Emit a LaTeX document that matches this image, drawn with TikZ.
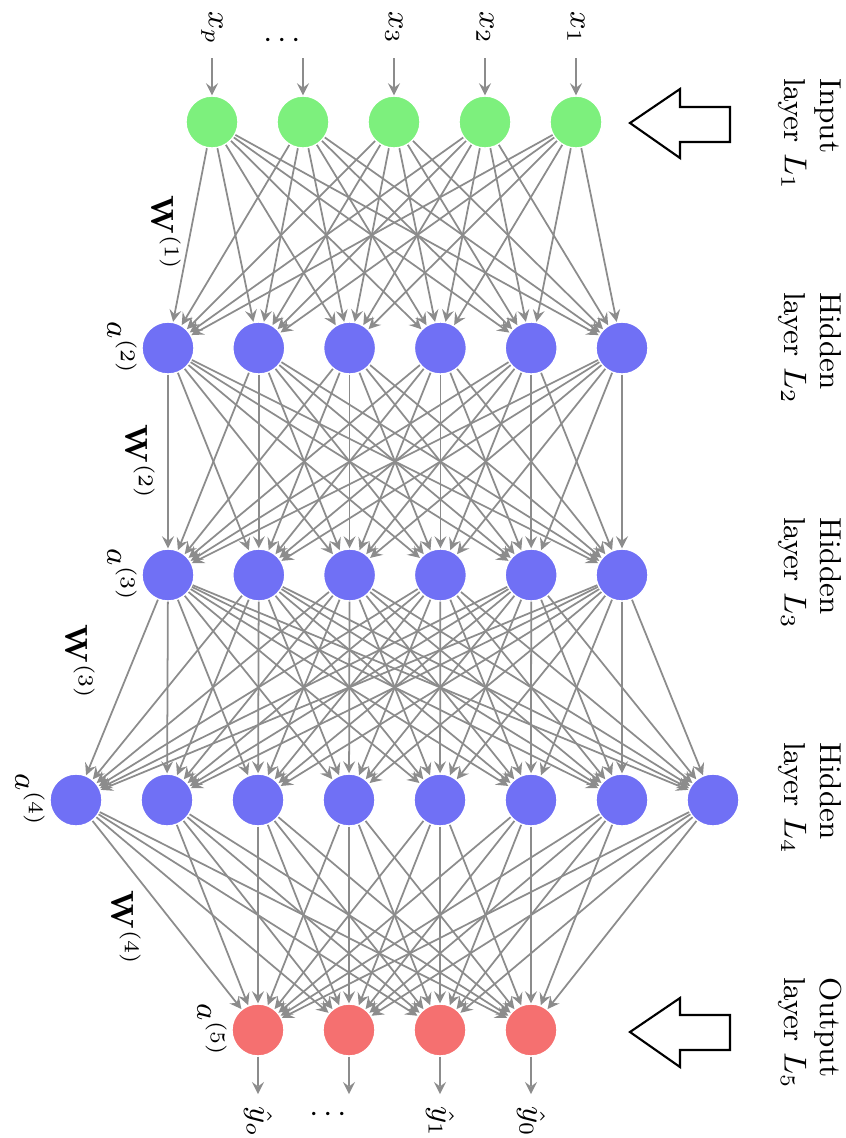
\documentclass[tikz,border=0pt]{standalone}
\usepackage{amsmath,amssymb}
\usepackage{tikz}
\usetikzlibrary{arrows, calc, positioning}
\definecolor{ingreen}{RGB}{125,240,125}
\definecolor{hidblue}{RGB}{112,112,245}
\definecolor{outred}{RGB}{245,112,112}
\tikzset{nodi/.style={circle,draw=white,fill=ingreen,minimum size=0.52cm,inner sep=0pt}}
\tikzset{nodh/.style={circle,draw=white,fill=hidblue,minimum size=0.52cm,inner sep=0pt}}
\tikzset{nodo/.style={circle,draw=white,fill=outred,minimum size=0.52cm,inner sep=0pt}}
\tikzset{conn/.style={->,>=stealth,draw=gray!90,line width=.5pt}}
\tikzset{rot/.style={rotate=-90,font=\small}}
\tikzset{laynam/.style={rotate=-90,align=left,font=\fontsize{8.6}{10.2}\selectfont}}
\tikzset{bigarr/.style={draw=black,line width=.6pt,fill=white}}

\begin{document}
\begin{tikzpicture}[x=0.01cm,y=-0.01cm]
\useasboundingbox (0,0) rectangle (846,1138);
% layers
\foreach \i in {1,...,5} \node [nodi] (l1-\i) at ({212+91*(\i-1)},122) {};
\foreach \i in {1,...,6} \node [nodh] (l2-\i) at ({168+90.8*(\i-1)},348) {};
\foreach \i in {1,...,6} \node [nodh] (l3-\i) at ({168+90.8*(\i-1)},575) {};
\foreach \i in {1,...,8} \node [nodh] (l4-\i) at ({76+91*(\i-1)},800) {};
\foreach \i in {1,...,4} \node [nodo] (l5-\i) at ({258+91*(\i-1)},1030) {};

% weights
\foreach \i in {1,...,5} \foreach \j in {1,...,6} \draw [conn] (l1-\i) -- (l2-\j);
\foreach \i in {1,...,6} \foreach \j in {1,...,6} \draw [conn] (l2-\i) -- (l3-\j);
\foreach \i in {1,...,6} \foreach \j in {1,...,8} \draw [conn] (l3-\i) -- (l4-\j);
\foreach \i in {1,...,8} \foreach \j in {1,...,4} \draw [conn] (l4-\i) -- (l5-\j);

% inputs and outputs
\foreach \i/\t in {1/x_p,3/x_3,4/x_2,5/x_1}
	\node [rot] (xl\i) at ($(l1-\i)+(0,-94)$) {$\t$};
\node [rot] (xl2) at ($(l1-2)+(-10,-82)$) {$\vdots$};
\foreach \i in {1,...,5}{
	\coordinate (in\i) at ($(l1-\i)+(0,-64)$);
	\draw [conn] (in\i) -- (l1-\i);
}
\foreach \i/\t in {1/\hat{y}_o,3/\hat{y}_1,4/\hat{y}_0}
	\node [rot] (yl\i) at ($(l5-\i)+(0,92)$) {$\t$};
\node [rot] (yl2) at ($(l5-2)+(-10,84)$) {$\vdots$};
\foreach \i in {1,...,4}{
	\coordinate (out\i) at ($(l5-\i)+(0,64)$);
	\draw [conn] (l5-\i) -- (out\i);
}

\node [rot] at ($(l2-1)+(-46,0)$) (a2) {$a^{(2)}$};
\node [rot] at ($(l3-1)+(-46,0)$) (a3) {$a^{(3)}$};
\node [rot] at ($(l4-1)+(-46,0)$) (a4) {$a^{(4)}$};
\node [rot] at ($(l5-1)+(-46,0)$) (a5) {$a^{(5)}$};

\node [rot] at (166,233) (w1) {$\mathbf{W}^{(1)}$};
\node [rot] at (140,462) (w2) {$\mathbf{W}^{(2)}$};
\node [rot] at (80,662) (w3) {$\mathbf{W}^{(3)}$};
\node [rot] at (126,928) (w4) {$\mathbf{W}^{(4)}$};

% layer names
\node [laynam] at (810,134) (lab1) {Input\\layer $L_1$};
\node [laynam] at (810,348) (lab2) {Hidden\\layer $L_2$};
\node [laynam] at (810,573) (lab3) {Hidden\\layer $L_3$};
\node [laynam] at (810,798) (lab4) {Hidden\\layer $L_4$};
\node [laynam] at (810,1033) (lab5) {Output\\layer $L_5$};

\draw [bigarr] (630,123) -- (680,89) -- (680,107) -- (730,107) -- (730,142) -- (680,142) -- (680,158) -- cycle;
\draw [bigarr] (630,1032) -- (680,998) -- (680,1015) -- (730,1015) -- (730,1050) -- (680,1050) -- (680,1067) -- cycle;
\end{tikzpicture}
\end{document}
